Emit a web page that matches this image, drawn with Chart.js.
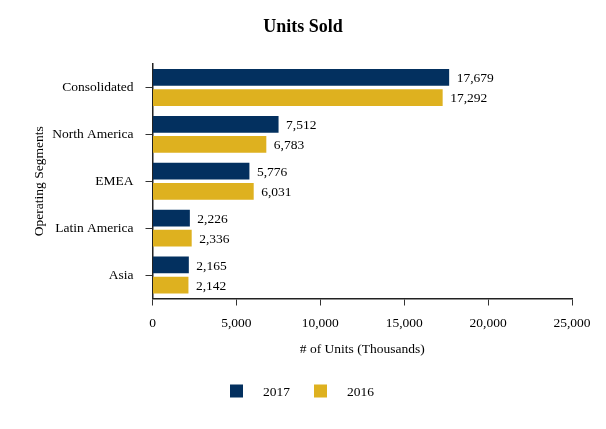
<!DOCTYPE html>
<html><head><meta charset="utf-8">
<script src="https://cdn.jsdelivr.net/npm/chart.js@4"></script>
<style>html,body{margin:0;padding:0;background:#fff}#wrap{width:606px;height:429px}</style>
</head><body><div id="wrap"><canvas id="c" width="606" height="429"></canvas></div>
<script>
const categories = ['Consolidated', 'North America', 'EMEA', 'Latin America', 'Asia'];
const units2017 = [17679, 7512, 5776, 2226, 2165];
const units2016 = [17292, 6783, 6031, 2336, 2142];
const seriesNames = ['2017', '2016'];
const xTickValues = [0, 5000, 10000, 15000, 20000, 25000];
const colors = ['#03305F', '#DEB11F'];
const chartTitle = 'Units Sold';

const FONT = 'Liberation Serif, Times New Roman, serif';
const FS = 13.5;
const fmt = v => Number(v).toLocaleString('en-US');

const dataLabels = {
  id: 'dataLabels',
  afterDatasetsDraw(chart) {
    const ctx = chart.ctx;
    ctx.save();
    ctx.font = FS + 'px ' + FONT;
    ctx.fillStyle = '#000';
    ctx.textAlign = 'left';
    ctx.textBaseline = 'middle';
    chart.data.datasets.forEach((ds, i) => {
      const meta = chart.getDatasetMeta(i);
      meta.data.forEach((el, j) => {
        ctx.fillText(fmt(ds.data[j]), el.x + 7.5, el.y + 1);
      });
    });
    ctx.restore();
  }
};

const centeredTitle = {
  id: 'centeredTitle',
  afterDraw(chart) {
    const ctx = chart.ctx;
    ctx.save();
    ctx.font = 'bold 18px ' + FONT;
    ctx.fillStyle = '#000';
    ctx.textAlign = 'center';
    ctx.textBaseline = 'middle';
    ctx.fillText(chartTitle, chart.width / 2, 27.5);
    ctx.restore();
  }
};

const customLegend = {
  id: 'customLegend',
  afterDraw(chart) {
    const ctx = chart.ctx;
    ctx.save();
    ctx.font = FS + 'px ' + FONT;
    ctx.textBaseline = 'middle';
    const box = 13, gapText = 20, gapItem = 24;
    const items = chart.data.datasets.map(d => ({text: d.label, color: d.backgroundColor, w: ctx.measureText(d.label).width}));
    let total = 0;
    items.forEach((it, i) => { total += box + gapText + it.w + (i < items.length - 1 ? gapItem : 0); });
    let x = chart.width / 2 - 1 - total / 2;
    const yc = 391;
    items.forEach(it => {
      ctx.fillStyle = it.color;
      ctx.fillRect(x, yc - box / 2, box, box);
      ctx.fillStyle = '#000';
      ctx.fillText(it.text, x + box + gapText, yc + 1);
      x += box + gapText + it.w + gapItem;
    });
    ctx.restore();
  }
};

new Chart(document.getElementById('c'), {
  type: 'bar',
  data: {
    labels: categories,
    datasets: [
      {label: seriesNames[0], data: units2017, backgroundColor: colors[0], categoryPercentage: 0.86, barPercentage: 0.83},
      {label: seriesNames[1], data: units2016, backgroundColor: colors[1], categoryPercentage: 0.86, barPercentage: 0.83}
    ]
  },
  options: {
    indexAxis: 'y',
    responsive: false,
    animation: false,
    devicePixelRatio: 1,
    layout: {padding: {left: 0, right: 34, top: 64, bottom: 0}},
    plugins: {
      legend: {display: false},
      tooltip: {enabled: false},
      title: {display: false}
    },
    scales: {
      x: {
        min: 0, max: 25000,
        afterBuildTicks(scale) { scale.ticks = xTickValues.map(v => ({value: v})); },
        afterFit(scale) { scale.height = 130.5; },
        grid: {drawOnChartArea: false, drawTicks: true, tickLength: 7, color: '#333'},
        border: {display: true, color: '#222', width: 1.5},
        ticks: {color: '#000', font: {family: FONT, size: FS}, padding: 10, maxRotation: 0, callback: v => fmt(v)},
        title: {display: true, text: '# of Units (Thousands)', color: '#000', font: {family: FONT, size: FS}, padding: {top: 4, bottom: 71}}
      },
      y: {
        afterFit(scale) { scale.width = 152.5; },
        grid: {drawOnChartArea: false, drawTicks: true, tickLength: 7, offset: false, color: '#333'},
        border: {display: true, color: '#222', width: 1.5},
        ticks: {color: '#000', font: {family: FONT, size: FS}, padding: 12},
        title: {display: true, text: 'Operating Segments', color: '#000', font: {family: FONT, size: FS}, padding: {top: 31, bottom: 4}}
      }
    }
  },
  plugins: [dataLabels, centeredTitle, customLegend]
});
</script></body></html>
